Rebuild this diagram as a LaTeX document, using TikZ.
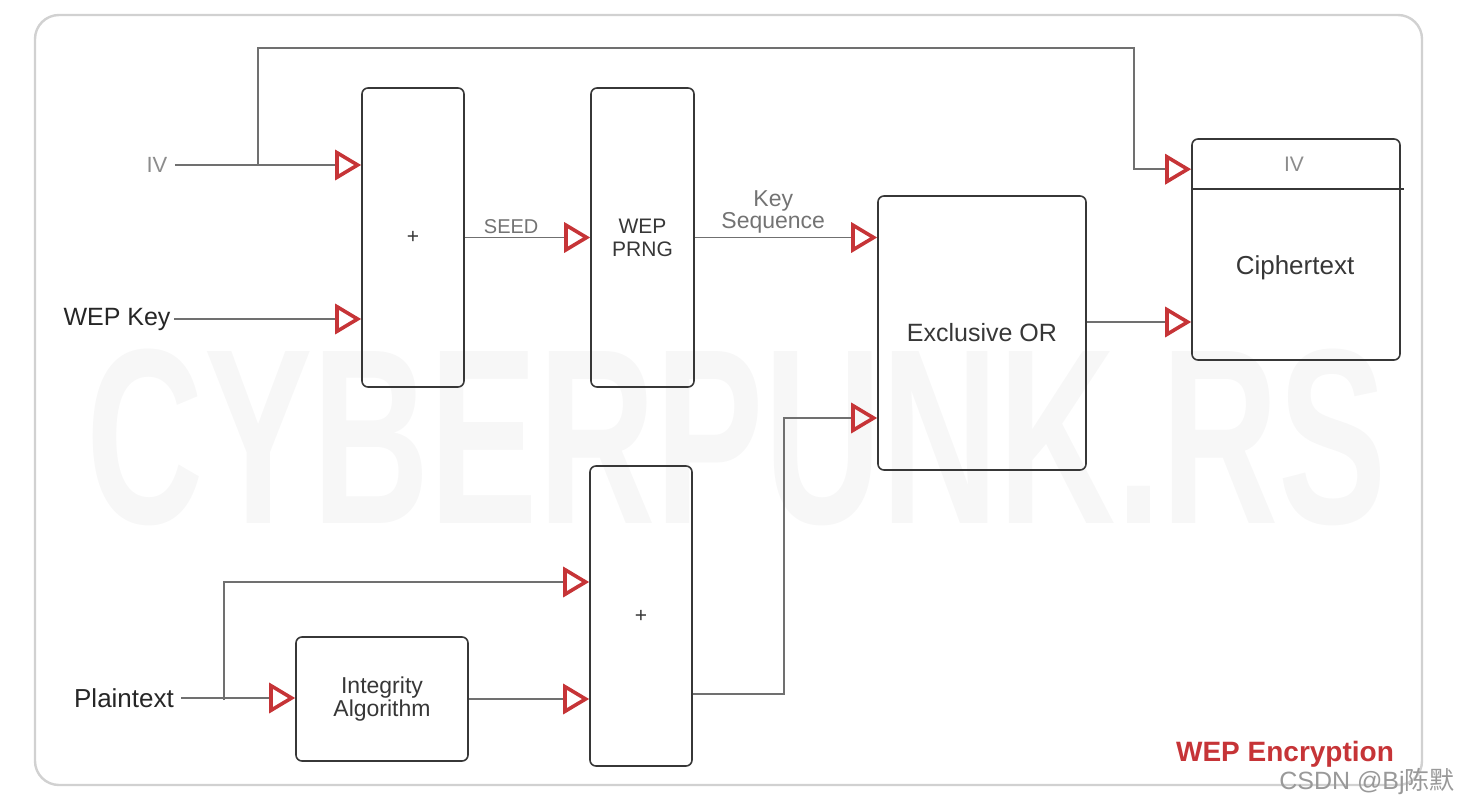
\documentclass[tikz,border=0pt]{standalone}
\usepackage{fontspec}
\setmainfont{Liberation Sans}
\newfontfamily\cjkfont{Noto Sans CJK SC}
\usetikzlibrary{arrows.meta,positioning,calc}
\definecolor{wepred}{RGB}{198,52,55}
\definecolor{linegray}{RGB}{112,112,112}
\definecolor{boxgray}{RGB}{55,55,55}
\begin{document}
\begin{tikzpicture}[
    x=1pt, y=-1pt,
    blk/.style={rectangle, draw=boxgray, line width=1.6pt, rounded corners=6pt, align=center,
                text=boxgray, font=\fontsize{21}{23}\selectfont},
    lbl/.style={font=\fontsize{25}{27}\selectfont},
    arr/.style={draw=linegray, line width=1.8pt,
                -{Triangle[open, length=26pt, width=30pt, line width=3.6pt, color=wepred]}},
    wire/.style={draw=linegray, line width=1.8pt}
]
    \useasboundingbox (0,0) rectangle (1465,808);
    \draw[black!18, line width=2.4pt, rounded corners=24pt] (35,15) rectangle (1422,785);
    \node[text=black!3, font=\fontsize{250}{250}\selectfont\bfseries, xscale=0.65] (mark) at (737,437) {CYBERPUNK.RS};

    \node[blk, minimum width=102pt, minimum height=299pt] (plusa) at (413,237.5) {+};
    \node[blk, minimum width=103pt, minimum height=299pt] (prng) at (642.5,237.5) {WEP\\PRNG};
    \node[blk, minimum width=208pt, minimum height=274pt, font=\fontsize{25}{27}\selectfont] (xor) at (982,333) {Exclusive OR};
    \node[blk, minimum width=208pt, minimum height=221pt] (cipher) at (1296,249.5) {};
    \node[blk, minimum width=102pt, minimum height=300pt] (plusb) at (641,616) {+};
    \node[blk, minimum width=172pt, minimum height=124pt, font=\fontsize{23}{23}\selectfont] (integ) at (382,699) {Integrity\\Algorithm};

    \node[text=black!45, font=\fontsize{21}{23}\selectfont] (ivin) at (1294,164) {IV};
    \node[text=boxgray, font=\fontsize{26}{28}\selectfont] (ctext) at (1295,268) {Ciphertext};
    \draw[boxgray, line width=1.6pt] ([yshift=-51pt]cipher.north west) -- ([yshift=-51pt, xshift=3pt]cipher.north east);

    \node[lbl, text=black!45, font=\fontsize{22}{24}\selectfont] (iv) at (157,165) {IV};
    \node[lbl, text=black!85] (key) at (117,319) {WEP Key};
    \node[lbl, text=black!85, font=\fontsize{26}{28}\selectfont] (plain) at (124,698) {Plaintext};
    \coordinate (ivsplit) at (258,165);
    \coordinate (ivtop) at (1134,48);
    \coordinate (ptsplit) at (224,700);

    \draw[arr] ([xshift=4pt]iv.east) -- (iv.east -| plusa.west);
    \draw[arr] (ivsplit) |- (ivtop) |- ([yshift=-31pt]cipher.north west);
    \draw[arr] (key.east) -- (key.east -| plusa.west);
    \draw[arr] (plusa) -- node[pos=0.37, above, text=black!55, font=\fontsize{20}{22}\selectfont] {SEED} (prng);
    \draw[arr] (prng.east) -- node[pos=0.43, above, align=center, text=black!55, font=\fontsize{23}{22}\selectfont] {Key\\Sequence} (prng.east -| xor.west);
    \draw[arr] ([yshift=11pt]xor.east) -- ([yshift=11pt]xor.east -| cipher.west);
    \draw[arr] ([yshift=-78pt]plusb.east) -| ([xshift=-93pt, yshift=-85pt]xor.west) -- ([yshift=-85pt]xor.west);
    \draw[arr] ([xshift=4pt]plain.east) -- (plain.east -| integ.west);
    \draw[arr] (ptsplit) |- ([yshift=34pt]plusb.west);
    \draw[arr] (integ) -- (integ -| plusb.west);

    \node[text=wepred, font=\fontsize{28}{30}\selectfont\bfseries] (title) at (1285,754) {WEP Encryption};
    \node[text=black!40, font=\fontsize{25}{27}\selectfont] (csdn) at (1367,781) {CSDN @Bj{\cjkfont 陈默}};
\end{tikzpicture}
\end{document}
